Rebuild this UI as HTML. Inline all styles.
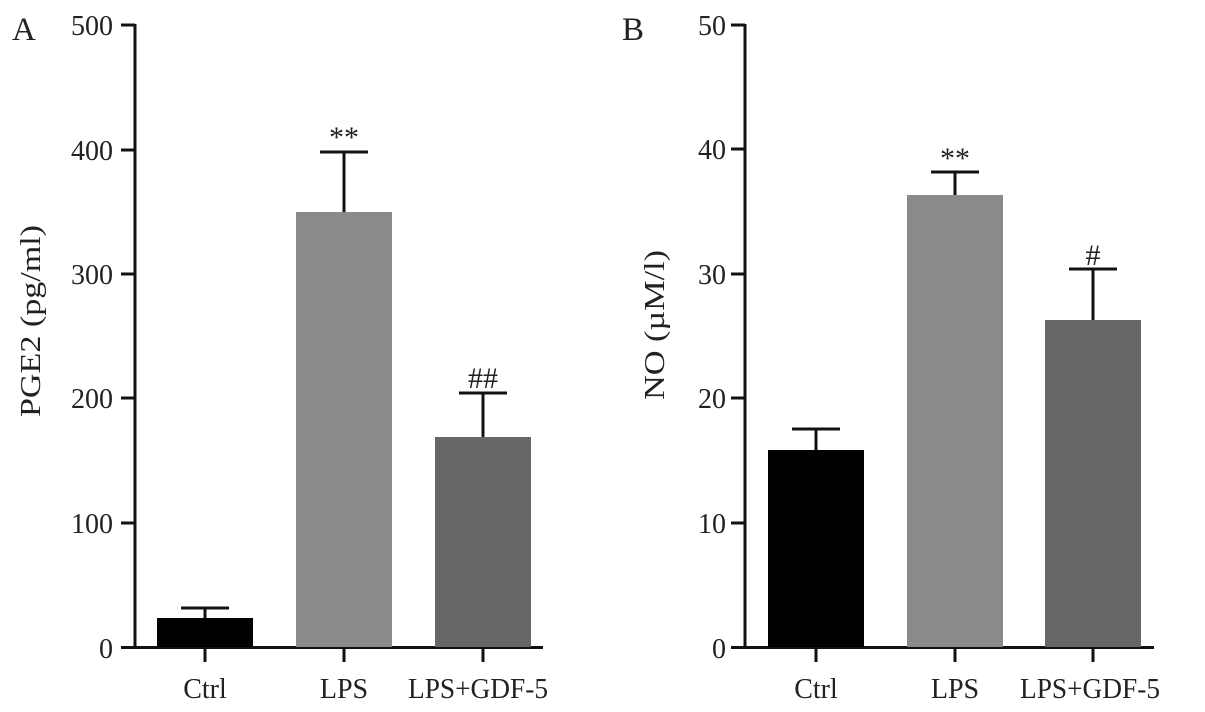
<!DOCTYPE html>
<html><head><style>body{margin:0;background:#fff}svg{display:block}text{font-family:"Liberation Serif",serif;fill:#222}</style></head><body>
<svg width="1205" height="712" viewBox="0 0 1205 712">
<g stroke="#111" stroke-width="3" fill="none">
<line x1="135" y1="24" x2="135" y2="649"/>
<line x1="121" y1="647.5" x2="543" y2="647.5"/>
<line x1="121" y1="25" x2="135" y2="25"/>
<line x1="121" y1="150" x2="135" y2="150"/>
<line x1="121" y1="274" x2="135" y2="274"/>
<line x1="121" y1="398" x2="135" y2="398"/>
<line x1="121" y1="523" x2="135" y2="523"/>
<line x1="205" y1="647" x2="205" y2="662"/>
<line x1="344" y1="647" x2="344" y2="662"/>
<line x1="483" y1="647" x2="483" y2="662"/>
<line x1="745" y1="24" x2="745" y2="649"/>
<line x1="731" y1="647.5" x2="1154" y2="647.5"/>
<line x1="731" y1="25" x2="745" y2="25"/>
<line x1="731" y1="149" x2="745" y2="149"/>
<line x1="731" y1="274" x2="745" y2="274"/>
<line x1="731" y1="398" x2="745" y2="398"/>
<line x1="731" y1="523" x2="745" y2="523"/>
<line x1="816" y1="647" x2="816" y2="662"/>
<line x1="955" y1="647" x2="955" y2="662"/>
<line x1="1093" y1="647" x2="1093" y2="662"/>
</g>
<rect x="157" y="618" width="96" height="29" fill="#000"/>
<rect x="296" y="212" width="96" height="435" fill="#8a8a8a"/>
<rect x="435" y="437" width="96" height="210" fill="#666"/>
<rect x="768" y="450" width="96" height="197" fill="#000"/>
<rect x="907" y="195" width="96" height="452" fill="#8a8a8a"/>
<rect x="1045" y="320" width="96" height="327" fill="#666"/>
<g stroke="#111" stroke-width="3">
<line x1="205" y1="618" x2="205" y2="608"/><line x1="181" y1="608" x2="229" y2="608"/>
<line x1="344" y1="212" x2="344" y2="152"/><line x1="320" y1="152" x2="368" y2="152"/>
<line x1="483" y1="437" x2="483" y2="393"/><line x1="459" y1="393" x2="507" y2="393"/>
<line x1="816" y1="450" x2="816" y2="429"/><line x1="792" y1="429" x2="840" y2="429"/>
<line x1="955" y1="195" x2="955" y2="172"/><line x1="931" y1="172" x2="979" y2="172"/>
<line x1="1093" y1="320" x2="1093" y2="269"/><line x1="1069" y1="269" x2="1117" y2="269"/>
</g>
<g font-size="28" text-anchor="end">
<text x="113" y="35">500</text><text x="113" y="160">400</text><text x="113" y="284">300</text><text x="113" y="408">200</text><text x="113" y="533">100</text><text x="113" y="658">0</text>
<text x="726" y="35">50</text><text x="726" y="159">40</text><text x="726" y="284">30</text><text x="726" y="408">20</text><text x="726" y="533">10</text><text x="726" y="658">0</text>
</g>
<g font-size="28" text-anchor="middle">
<text x="205" y="698">Ctrl</text><text x="344" y="698">LPS</text><text x="478" y="698" textLength="140" lengthAdjust="spacingAndGlyphs">LPS+GDF-5</text>
<text x="816" y="698">Ctrl</text><text x="955" y="698">LPS</text><text x="1090" y="698" textLength="140" lengthAdjust="spacingAndGlyphs">LPS+GDF-5</text>
</g>
<g font-size="30" text-anchor="middle" style="fill:#555">
<text x="344" y="147">**</text><text x="483" y="388">##</text>
<text x="955" y="168">**</text><text x="1093" y="265">#</text>
</g>
<text x="12" y="40" font-size="33">A</text>
<text x="622" y="40" font-size="33">B</text>
<text transform="translate(40,321) rotate(-90)" font-size="29" text-anchor="middle" textLength="192" lengthAdjust="spacingAndGlyphs">PGE2 (pg/ml)</text>
<text transform="translate(664,325) rotate(-90)" font-size="29" text-anchor="middle" textLength="150" lengthAdjust="spacingAndGlyphs">NO (µM/l)</text>
</svg>
</body></html>
